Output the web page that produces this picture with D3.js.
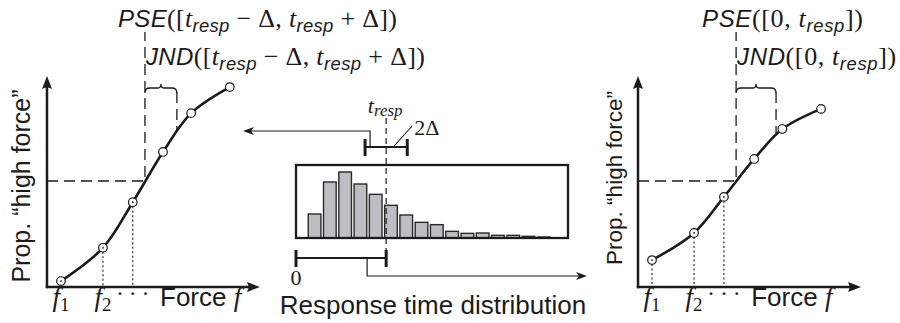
<!DOCTYPE html>
<html>
<head>
<meta charset="utf-8">
<script src="https://cdn.jsdelivr.net/npm/d3@7"></script>
<style>
  body { margin: 0; background: #fff; }
  svg { display: block; }
</style>
</head>
<body>
<div id="chart"></div>
<script>
// force levels f1..f6, shared by both psychometric panels
const forceLevels = [1, 2, 2.71, 3.43, 4.1, 5.02];
// proportion of "high force" answers, window [t_resp - Δ, t_resp + Δ]
const propWindow = [0.028, 0.185, 0.40, 0.637, 0.82, 0.943];
// proportion of "high force" answers, cumulative [0, t_resp]
const propCumul = [0.127, 0.255, 0.425, 0.604, 0.745, 0.84];
const pseWindow = 3.0, jndWindow = 0.76;
const pseCumul = 3.0, jndCumul = 0.95;

// response time histogram (ms)
const binStart = [40, 90, 140, 190, 240, 290, 340, 390, 440, 490, 540, 590, 640, 690, 740, 790];
const binCount = [72, 168, 198, 162, 131, 98, 69, 47, 40, 20, 14, 15, 8, 8, 5, 3];
const binWidth = 50;
const tResp = 295, delta = 69;

const SANS = '"Liberation Sans", Arial, Helvetica, sans-serif';
const SERIF = '"Liberation Serif", "Times New Roman", serif';
const ink = "#1b1b1b";

const svg = d3.select("#chart")
    .append("svg")
    .attr("width", 900)
    .attr("height", 323);

// line ending in a filled, slightly notched arrow head
function arrow(g, pts, o) {
    const [x2, y2] = pts[pts.length - 1], [x1, y1] = pts[pts.length - 2];
    const a = Math.atan2(y2 - y1, x2 - x1);
    const back = o.len * 0.6;
    const body = pts.slice(0, -1).concat([[x2 - back * Math.cos(a), y2 - back * Math.sin(a)]]);
    g.append("path")
        .attr("d", d3.line()(body))
        .attr("fill", "none")
        .attr("stroke", ink)
        .attr("stroke-width", o.w);
    const head = [[0, 0], [-o.len, -o.half], [-o.len + o.notch, 0], [-o.len, o.half]];
    g.append("path")
        .attr("d", "M" + head.join("L") + "Z")
        .attr("transform", `translate(${x2},${y2}) rotate(${a * 180 / Math.PI})`)
        .attr("fill", ink);
}

// text made of tokens with mixed fonts and subscripts
function mathText(g, x, y, tokens, o = {}) {
    const t = g.append("text")
        .attr("x", x).attr("y", y)
        .attr("fill", ink)
        .attr("text-anchor", o.anchor || "start");
    if (o.width) t.attr("textLength", o.width).attr("lengthAdjust", "spacing");
    let shift = 0;
    tokens.forEach(tk => {
        const s = t.append("tspan")
            .text(tk.s)
            .attr("font-family", tk.f === "sans" ? SANS : SERIF)
            .attr("font-size", tk.size)
            .attr("font-style", tk.it ? "italic" : "normal");
        const target = tk.sub || 0;
        if (target !== shift) { s.attr("dy", target - shift); shift = target; }
    });
    return t;
}
const sansIt = (s, size = 24) => ({s, f: "sans", it: true, size});
const serif = (s, size = 26) => ({s, f: "serif", it: false, size});
const serifIt = (s, size = 26) => ({s, f: "serif", it: true, size});
const sub = (s, f = "sans", size = 18.5, d = 5, it = true) => ({s, f, it, size, sub: d});
const nb = "\u00a0";

// locate the curve's y at a given x by bisecting along the path
function yAtX(node, x) {
    let lo = 0, hi = node.getTotalLength();
    for (let i = 0; i < 30; i++) {
        const m = (lo + hi) / 2;
        if (node.getPointAtLength(m).x < x) lo = m; else hi = m;
    }
    return node.getPointAtLength(lo).y;
}

function drawPanel(p) {
    const g = svg.append("g");
    const fx = d3.scaleLinear().domain([0.667, p.fMax]).range([p.x0, p.x1]);
    const py = d3.scaleLinear().domain([0, 1]).range([287, 75]);
    const pts = forceLevels.map((f, i) => [fx(f), py(p.props[i])]);

    // dotted drops from the low force levels
    p.drops.forEach(i => {
        g.append("line")
            .attr("x1", pts[i][0]).attr("x2", pts[i][0])
            .attr("y1", pts[i][1] + 4).attr("y2", py(0))
            .attr("stroke", ink).attr("stroke-width", 1.1)
            .attr("stroke-dasharray", "2,2.5");
    });

    const curve = g.append("path")
        .datum(pts)
        .attr("fill", "none")
        .attr("stroke", ink)
        .attr("stroke-width", 2.6)
        .attr("d", d3.line().curve(d3.curveCatmullRom.alpha(0.5)));

    // PSE guide lines
    const xPse = fx(p.pse), yHalf = py(0.5);
    g.append("path")
        .attr("d", d3.line()([[fx(0.667), yHalf], [xPse, yHalf], [xPse, 32]]))
        .attr("fill", "none")
        .attr("stroke", ink).attr("stroke-width", 1.3)
        .attr("stroke-dasharray", "11,6");

    // JND guide and brace
    const xJnd = fx(p.pse + p.jnd), by = 88;
    g.append("line")
        .attr("x1", xJnd).attr("x2", xJnd)
        .attr("y1", by + 4).attr("y2", yAtX(curve.node(), xJnd))
        .attr("stroke", ink).attr("stroke-width", 1.3)
        .attr("stroke-dasharray", "11,6");
    const mid = (xPse + xJnd) / 2;
    g.append("path")
        .attr("d", `M${xPse},${by + 5}Q${xPse},${by} ${xPse + 5},${by}L${mid - 3},${by}Q${mid},${by} ${mid},${by - 4}` +
            `Q${mid},${by} ${mid + 3},${by}L${xJnd - 5},${by}Q${xJnd},${by} ${xJnd},${by + 5}`)
        .attr("fill", "none")
        .attr("stroke", ink).attr("stroke-width", 1.3);

    // data points
    g.selectAll("circle.pt")
        .data(pts)
        .join("circle")
        .attr("class", "pt")
        .attr("cx", d => d[0]).attr("cy", d => d[1])
        .attr("r", 4.3)
        .attr("fill", "#fff")
        .attr("stroke", ink).attr("stroke-width", 1.2);
    p.dots.forEach(i => {
        g.append("circle")
            .attr("cx", pts[i][0]).attr("cy", pts[i][1])
            .attr("r", 0.9).attr("fill", ink);
    });

    // axes
    arrow(g, [[fx(0.667) - 1.2, py(0)], [p.x1, py(0)]], {len: 13, half: 5, notch: 2, w: 2.5});
    arrow(g, [[fx(0.667), py(0) + 1.2], [fx(0.667), 76]], {len: 13, half: 5, notch: 2, w: 2.5});

    // x labels
    const yl = 306;
    mathText(g, fx(forceLevels[0]), yl, [serifIt("f", 27), sub("1", "serif", 19, 5, false)], {anchor: "middle"});
    mathText(g, fx(forceLevels[1]), yl, [serifIt("f", 27), sub("2", "serif", 19, 5, false)], {anchor: "middle"});
    g.append("text")
        .attr("x", fx(forceLevels[2])).attr("y", yl - 5)
        .attr("text-anchor", "middle")
        .attr("font-family", SERIF).attr("font-size", 24)
        .attr("fill", ink)
        .text("·\u2009·\u2009·");
    mathText(g, fx(forceLevels[3]) - 3, yl, [
        {s: "Force" + nb, f: "sans", it: false, size: 26},
        serifIt("f", 27)
    ]);

    // y label
    g.append("text")
        .attr("transform", `translate(${p.ylx},${p.yly}) rotate(-90)`)
        .attr("text-anchor", "middle")
        .attr("font-family", SANS).attr("font-size", p.ylSize)
        .attr("fill", ink)
        .text("Prop. \u201chigh force\u201d");

    // PSE / JND labels
    mathText(g, p.pseLabelX, 27, p.pseTokens, {width: p.pseLabelW});
    mathText(g, xPse + 1, 65, p.jndTokens, {width: p.jndLabelW});
}

const windowArg = [serif("(["), serifIt("t"), sub("resp"), serif(nb + "−" + nb + "Δ," + nb),
    serifIt("t"), sub("resp"), serif(nb + "+" + nb + "Δ])")];
const cumulArg = [serif("([0," + nb), serifIt("t"), sub("resp"), serif("])")];

drawPanel({
    x0: 47, x1: 260, fMax: 5.74,
    props: propWindow, pse: pseWindow, jnd: jndWindow,
    drops: [1, 2], dots: [0, 1, 2],
    ylx: 30, yly: 186, ylSize: 25,
    pseLabelX: 118, pseLabelW: 279,
    pseTokens: [sansIt("PSE")].concat(windowArg),
    jndLabelW: 279,
    jndTokens: [sansIt("JND")].concat(windowArg)
});
drawPanel({
    x0: 638, x1: 861, fMax: 5.97,
    props: propCumul, pse: pseCumul, jnd: jndCumul,
    drops: [0, 1, 2], dots: [0, 1, 2],
    ylx: 622, yly: 178, ylSize: 22.5,
    pseLabelX: 702, pseLabelW: 161,
    pseTokens: [sansIt("PSE")].concat(cumulArg),
    jndLabelW: 159,
    jndTokens: [sansIt("JND")].concat(cumulArg)
});

// ---- response time distribution (middle) ----
const mid = svg.append("g");
const tx = d3.scaleLinear().domain([0, 890]).range([296, 568]);
const cy = d3.scaleLinear().domain([0, 219]).range([238, 165]);

mid.selectAll("rect.bin")
    .data(binStart)
    .join("rect")
    .attr("class", "bin")
    .attr("x", d => tx(d))
    .attr("y", (d, i) => cy(binCount[i]))
    .attr("width", tx(binWidth) - tx(0) - 2.6)
    .attr("height", (d, i) => cy(0) - cy(binCount[i]))
    .attr("fill", "#bdbec1")
    .attr("stroke", "#2a2a2a")
    .attr("stroke-width", 1.4);

mid.append("rect")
    .attr("x", tx(0)).attr("y", cy(219))
    .attr("width", tx(890) - tx(0)).attr("height", cy(0) - cy(219))
    .attr("fill", "none")
    .attr("stroke", ink).attr("stroke-width", 2.3);

// t_resp marker
mid.append("line")
    .attr("x1", tx(tResp)).attr("x2", tx(tResp))
    .attr("y1", 118).attr("y2", 258)
    .attr("stroke", ink).attr("stroke-width", 1.2)
    .attr("stroke-dasharray", "6,4");
mathText(mid, tx(tResp) - 1, 113, [serifIt("t", 22), sub("resp", "serif", 17, 3)], {anchor: "middle"});

// windows: [t_resp - Δ, t_resp + Δ] and [0, t_resp]
function rangeBar(a, b, y) {
    mid.append("line")
        .attr("x1", tx(a)).attr("x2", tx(b)).attr("y1", y).attr("y2", y)
        .attr("stroke", ink).attr("stroke-width", 2.2);
    [a, b].forEach(v => mid.append("line")
        .attr("x1", tx(v)).attr("x2", tx(v)).attr("y1", y - 8).attr("y2", y + 9)
        .attr("stroke", ink).attr("stroke-width", 3));
}
rangeBar(tResp - delta, tResp + delta, 147);
rangeBar(0, tResp, 258);

mid.append("line")
    .attr("x1", tx(tResp) + 7).attr("y1", 147)
    .attr("x2", tx(tResp) + 26).attr("y2", 126)
    .attr("stroke", ink).attr("stroke-width", 1.1);
mathText(mid, tx(tResp) + 28, 135, [serif("2Δ", 22)]);

arrow(mid, [[tx(tResp - delta) + 5, 147], [tx(tResp - delta) + 5, 131], [243, 131]],
    {len: 11, half: 4, notch: 3, w: 1.2});
arrow(mid, [[tx(tResp * 0.8) - 1, 258], [tx(tResp * 0.8) - 1, 276], [587, 276]],
    {len: 11, half: 4, notch: 3, w: 1.2});

mid.append("text")
    .attr("x", tx(0)).attr("y", 285)
    .attr("text-anchor", "middle")
    .attr("font-family", SERIF).attr("font-size", 22)
    .attr("fill", ink)
    .text("0");
mid.append("text")
    .attr("x", 433).attr("y", 314)
    .attr("text-anchor", "middle")
    .attr("font-family", SANS).attr("font-size", 26)
    .attr("fill", ink)
    .text("Response time distribution");
</script>
</body>
</html>
